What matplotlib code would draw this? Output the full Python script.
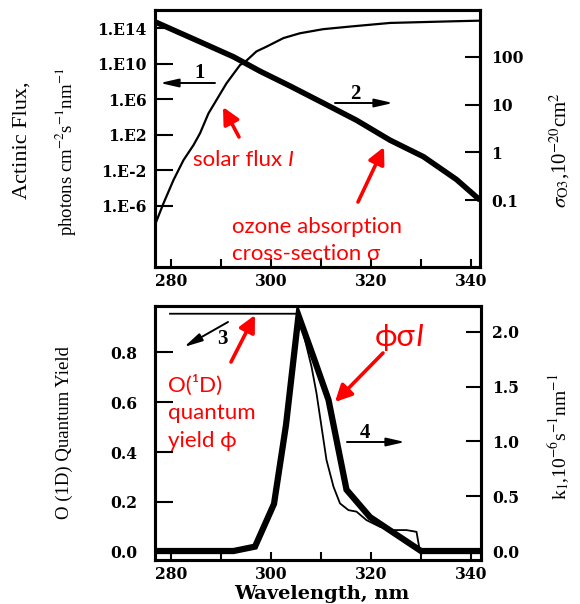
import numpy as np
import matplotlib
matplotlib.use('Agg')
import matplotlib.pyplot as plt
from matplotlib.ticker import NullLocator

W, H = 580, 604

# ---------------- data ----------------
# top panel: solar actinic flux (left, log) and O3 cross-section (right, log)
flux_wl = [276.9, 278.5, 280.5, 282.5, 284.5, 285.8, 287.5, 289.1, 291.1, 293.8,
           294.8, 297.1, 299.1, 302.5, 305.8, 310.4, 316.0, 323.8, 330.4, 337.2, 341.8]
flux_val = [1.0e-8, 1.9e-6, 8.0e-4, 1.4e-1, 6.9, 1.45e2, 2.6e4, 8.3e5, 6.3e7, 7.2e9,
            1.6e10, 2.5e11, 8.5e11, 7.9e12, 2.75e13, 7.9e13, 1.6e14, 4.0e14, 5.0e14,
            6.3e14, 7.2e14]
o3_wl = [276.8, 280.5, 285.8, 292.5, 297.8, 303.8, 310.5, 317.1, 323.8, 330.5, 337.1, 341.8]
o3_val = [540, 363, 206, 100, 50, 24.5, 10.7, 4.7, 1.8, 0.81, 0.27, 0.1]

# bottom panel: O(1D) quantum yield (left) and k1 spectrum (right)
qy_wl = [279.8, 305.5, 308.1, 309.1, 310.1, 311.1, 312.5, 313.8, 315.5, 317.1,
         319.1, 321.8, 324.5, 327.1, 329.1, 329.8]
qy_val = [0.955, 0.955, 0.743, 0.636, 0.502, 0.368, 0.261, 0.194, 0.167, 0.161,
          0.127, 0.100, 0.087, 0.087, 0.080, 0.0]
k1_wl = [276.8, 292.5, 296.8, 300.6, 303.0, 305.5, 308.5, 311.5, 315.1, 319.8, 330.0, 342.0]
k1_val = [0.0, 0.0, 0.04, 0.43, 1.15, 2.15, 1.77, 1.38, 0.56, 0.31, 0.0, 0.0]

top_left_ticks = [1e14, 1e10, 1e6, 1e2, 1e-2, 1e-6]
top_left_labels = ['1.E14', '1.E10', '1.E6', '1.E2', '1.E-2', '1.E-6']
top_right_ticks = [100, 10, 1, 0.1]
top_right_labels = ['100', '10', '1', '0.1']
bot_left_ticks = [0.0, 0.2, 0.4, 0.6, 0.8]
bot_left_labels = ['0.0', '0.2', '0.4', '0.6', '0.8']
bot_right_ticks = [0.0, 0.5, 1.0, 1.5, 2.0]
bot_right_labels = ['0.0', '0.5', '1.0', '1.5', '2.0']
x_major = [280, 300, 320, 340]
x_minor = [290, 310, 330]

# ---------------- style ----------------
plt.rcParams['mathtext.fontset'] = 'stix'
TICKFONT = dict(family='DejaVu Serif', weight='bold', size=11.2)
SERIF = ['Liberation Serif', 'DejaVu Serif']
RED = ['Lato', 'Open Sans', 'DejaVu Sans']


def P(x, y):
    return (x / W, 1 - y / H)


fig = plt.figure(figsize=(W / 100, H / 100), dpi=100)
fig.patch.set_facecolor('white')

ax1 = fig.add_axes([155 / W, 1 - 267 / H, 325 / W, 257 / H])
ax1r = ax1.twinx()
ax2 = fig.add_axes([155 / W, 1 - 560 / H, 326 / W, 254 / H])
ax2r = ax2.twinx()

# top panel
ax1.plot(flux_wl, flux_val, color='black', lw=1.6, solid_joinstyle='round')
ax1r.plot(o3_wl, o3_val, color='black', lw=4.0, solid_capstyle='butt',
          solid_joinstyle='round')
ax1.set_yscale('log')
ax1r.set_yscale('log')
ax1.set_xlim(276.8, 341.8)
ax1.set_ylim(10 ** -12.9, 10 ** 16.06)
ax1r.set_ylim(10 ** -2.4, 10 ** 2.98)
ax1.set_yticks(top_left_ticks)
ax1.set_yticklabels(top_left_labels)
ax1r.set_yticks(top_right_ticks)
ax1r.set_yticklabels(top_right_labels)
ax1.yaxis.set_minor_locator(NullLocator())
ax1r.yaxis.set_minor_locator(NullLocator())

# bottom panel
ax2.plot(qy_wl, qy_val, color='black', lw=1.3, solid_joinstyle='round')
ax2r.plot(k1_wl, k1_val, color='black', lw=4.5, solid_joinstyle='miter')
ax2.set_xlim(276.8, 342.0)
ax2.set_ylim(-0.033, 0.986)
ax2r.set_ylim(-0.082, 2.237)
ax2.set_yticks(bot_left_ticks)
ax2.set_yticklabels(bot_left_labels)
ax2r.set_yticks(bot_right_ticks)
ax2r.set_yticklabels(bot_right_labels)

for ax in (ax1, ax2):
    ax.set_xticks(x_major)
    ax.set_xticklabels([str(v) for v in x_major])
    ax.set_xticks(x_minor, minor=True)
    ax.tick_params(axis='x', which='both', direction='in', length=6, width=1.5,
                   pad=4, top=False)
    for lab in ax.get_xticklabels():
        lab.set(**TICKFONT)

ax1.tick_params(axis='y', direction='in', length=13, width=1.5, pad=6)
ax2.tick_params(axis='y', direction='in', length=13, width=1.5, pad=13)
ax1r.tick_params(axis='y', direction='in', length=11, width=1.5, pad=8)
ax2r.tick_params(axis='y', direction='in', length=11, width=1.5, pad=8)
for ax in (ax1, ax1r, ax2, ax2r):
    for lab in ax.get_yticklabels():
        lab.set(**TICKFONT)
    for sp in ax.spines.values():
        sp.set_linewidth(2.2)

# overlay for annotations (drawn above both panels)
ov = fig.add_axes([0, 0, 1, 1], zorder=10)
ov.set_xlim(0, 1)
ov.set_ylim(0, 1)
ov.axis('off')
ov.patch.set_alpha(0)

# axis labels
ov.text(*P(22, 140), 'Actinic Flux,', rotation=90, ha='center', va='center',
        family=SERIF, size=16)
ov.text(*P(66, 152), r'photons cm$^{-2}$s$^{-1}$nm$^{-1}$', rotation=90,
        ha='center', va='center', family=SERIF, size=13.5)
ov.text(*P(560, 150), r'$\sigma_{\rm O3}$,10$^{-20}$cm$^{2}$', rotation=90,
        ha='center', va='center', family=SERIF, size=15)
ov.text(*P(64, 433), 'O (1D) Quantum Yield', rotation=90, ha='center',
        va='center', family=SERIF, size=13.5)
ov.text(*P(559, 437), r'k$_{1}$,10$^{-6}$s$^{-1}$nm$^{-1}$', rotation=90,
        ha='center', va='center', family=SERIF, size=14)
ov.text(*P(322, 594), 'Wavelength, nm', ha='center', va='center',
        family='DejaVu Serif', weight='bold', size=14)


def arrow(tail, head, color, lw, hl, hw):
    ov.annotate('', xy=P(*head), xytext=P(*tail), xycoords='data',
                textcoords='data', annotation_clip=False,
                arrowprops=dict(arrowstyle=f'-|>,head_length={hl},head_width={hw}',
                                color=color, lw=lw, shrinkA=0, shrinkB=0))


# black numbered arrows
arrow((215, 83), (160, 83), 'black', 1.4, 1.1, 0.25)
arrow((335, 103), (393, 103), 'black', 1.4, 1.1, 0.25)
arrow((228, 322), (184, 347), 'black', 1.4, 1.1, 0.25)
arrow((347, 442), (405, 442), 'black', 1.4, 1.1, 0.25)
for (x, y), s in zip([(200, 73), (355, 94), (222, 339), (365, 433)], ['1', '2', '3', '4']):
    ov.text(*P(x, y), s, ha='center', va='center', family=SERIF,
            weight='bold', size=15)

# red annotations
arrow((239, 137), (223, 107), 'red', 2.6, 1.0, 0.5)
arrow((358, 202), (384, 147), 'red', 2.6, 1.0, 0.5)
arrow((231, 362), (255, 315), 'red', 2.6, 1.0, 0.5)
arrow((383, 353), (335, 402), 'red', 2.6, 1.0, 0.5)

t1 = ov.text(*P(193, 160), 'solar flux ', ha='left', va='center', color='red',
             family=RED, size=16)
ov.annotate('I', xy=(1, 0), xycoords=t1, ha='left', va='bottom', color='red',
            family=RED, size=16, style='italic', annotation_clip=False)
ov.text(*P(232, 227), 'ozone absorption', ha='left', va='center', color='red',
        family=RED, size=16)
ov.text(*P(232, 254), 'cross-section \u03c3', ha='left', va='center', color='red',
        family=RED, size=16)
ov.text(*P(168, 385), 'O(\u00b9D)', ha='left', va='center', color='red',
        family=RED, size=16)
ov.text(*P(168, 413), 'quantum', ha='left', va='center', color='red',
        family=RED, size=16)
ov.text(*P(168, 441), 'yield \u03d5', ha='left', va='center', color='red',
        family=RED, size=16)
t2 = ov.text(*P(375, 337), '\u03d5\u03c3', ha='left', va='center', color='red',
             family=RED, size=22)
ov.annotate('I', xy=(1, 0), xycoords=t2, ha='left', va='bottom', color='red',
            family=RED, size=22, style='italic', annotation_clip=False)

fig.savefig('out.png', dpi=100, facecolor='white')
